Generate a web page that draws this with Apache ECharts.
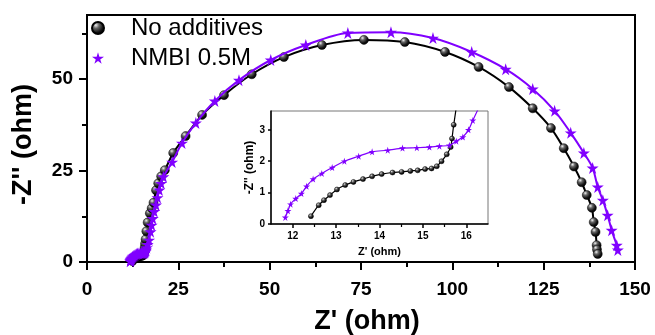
<!DOCTYPE html>
<html><head><meta charset="utf-8">
<script src="https://cdn.jsdelivr.net/npm/echarts@6/dist/echarts.min.js"></script>
<style>html,body{margin:0;padding:0;background:#fff}#c{width:655px;height:335px}</style>
</head><body><div id="c"></div>
<script>
const seriesNames = ['No additives', 'NMBI 0.5M'];
// No additives: Z' (ohm) and -Z'' (ohm)
const noAddZre = [12.42,12.60,12.72,12.86,13.02,13.21,13.40,13.62,13.83,14.05,14.30,14.51,14.71,14.88,15.05,15.20,15.32,15.43,15.55,15.64,15.67,15.71,
  15.80,15.90,16.05,16.25,16.6,17.2,17.7,18.2,18.9,19.5,20.3,21.3,23.6,27.0,31.5,37.5,45.1,53.9,64.3,75.8,87.0,98.0,107.2,115.5,122.0,127.0,130.5,133.3,135.4,136.8,138.2,138.7,139.2,139.5,139.6,139.8];
const noAddZim = [0.25,0.60,0.76,0.92,1.10,1.24,1.34,1.43,1.52,1.59,1.64,1.66,1.69,1.71,1.75,1.77,1.84,2.00,2.22,2.45,2.72,3.16,
  4.0,5.0,6.2,8.4,10.8,13.3,14.7,16.2,19.6,21.5,23.4,25.1,29.8,34.4,40.2,45.6,51.3,56.0,59.3,60.7,60.1,57.4,53.3,47.8,42.0,36.6,31.1,26.1,21.8,18.3,14.8,10.9,8.2,4.6,3.4,2.2];
// NMBI 0.5M
const nmbiZre = [11.83,11.89,11.95,12.07,12.20,12.32,12.47,12.67,12.91,13.19,13.52,13.83,14.19,14.53,14.86,15.15,15.38,15.61,15.77,15.92,16.05,16.15,
  16.35,16.6,17.0,17.4,17.7,18.0,18.4,18.9,19.3,19.8,20.3,20.9,23.3,26.0,29.8,35.0,41.6,50.3,59.9,71.4,83.2,94.7,105.3,114.6,122.0,128.0,132.4,136.0,138.4,139.8,141.2,142.5,143.6,145.0,145.3];
const nmbiZim = [0.21,0.42,0.63,0.81,0.97,1.20,1.43,1.61,1.80,2.00,2.16,2.30,2.35,2.42,2.43,2.45,2.48,2.51,2.64,2.77,3.00,3.30,
  3.9,4.8,6.0,8.3,10.1,11.9,13.8,15.6,17.6,19.7,21.5,23.3,27.3,32.5,38.0,44.0,49.7,55.2,59.3,62.6,62.8,61.2,57.4,52.7,47.3,41.3,35.3,29.8,25.7,20.5,16.9,12.8,8.7,4.6,3.3];

const mainYTicks = [0, 25, 50];
const mainYMinor = [12.5, 37.5, 62.5];
const insetXTicks = [12, 13, 14, 15, 16];
const insetXMinor = [12.5, 13.5, 14.5, 15.5];
const insetYTicks = [0, 1, 2, 3];

const zip = (a, b) => a.map((v, i) => [v, b[i]]);
const noAddData = zip(noAddZre, noAddZim);
const nmbiData = zip(nmbiZre, nmbiZim);

const FONT = '"Liberation Sans", Arial, sans-serif';
const PURPLE = '#8000ff';
const STAR = 'path://M50,0 L61,35 L98,35 L68,57 L79,91 L50,70 L21,91 L32,57 L2,35 L39,35 Z';
const sphere = {
  type: 'radial', x: 0.35, y: 0.3, r: 0.75,
  colorStops: [{offset: 0, color: '#f0f0f0'}, {offset: 0.3, color: '#666'}, {offset: 0.7, color: '#111'}, {offset: 1, color: '#000'}]
};

const chart = echarts.init(document.getElementById('c'), null, {renderer: 'canvas'});
const axLine = {lineStyle: {color: '#000', width: 2}};
chart.setOption({
  animation: false,
  backgroundColor: '#fff',
  textStyle: {fontFamily: FONT},
  legend: {
    orient: 'vertical', left: 91, top: 16, padding: 0, itemWidth: 12, itemHeight: 12, itemGap: 6,
    data: [{name: seriesNames[0], icon: 'circle'}, {name: seriesNames[1], icon: STAR}],
    textStyle: {fontSize: 24, color: '#000', fontFamily: FONT, lineHeight: 24, padding: [0, 0, 0, 22]}
  },
  grid: [
    {left: 87, right: 20, top: 15, bottom: 73, show: true, borderColor: '#000', borderWidth: 2, containLabel: false, outerBoundsMode: 'none'},
    {left: 271, top: 111, width: 217, height: 113, show: true, borderColor: '#777', borderWidth: 1, backgroundColor: '#fff', containLabel: false, outerBoundsMode: 'none'}
  ],
  xAxis: [
    {gridIndex: 0, type: 'value', min: 0, max: 150, interval: 25,
      axisLine: axLine,
      axisTick: {show: true, inside: false, length: 8, lineStyle: {color: '#000', width: 2}},
      minorTick: {show: true, splitNumber: 2, length: 5, lineStyle: {color: '#000', width: 2}},
      axisLabel: {fontSize: 19, fontWeight: 'bold', color: '#000', margin: 18, fontFamily: FONT},
      splitLine: {show: false}, minorSplitLine: {show: false},
      name: "Z' (ohm)", nameLocation: 'middle', nameGap: 46,
      nameTextStyle: {fontSize: 27, fontWeight: 'bold', color: '#000', fontFamily: FONT, padding: [0, 0, 0, 12]}},
    {gridIndex: 1, type: 'value', min: 11.5, max: 16.5,
      axisLine: {lineStyle: {color: '#000', width: 1.5}},
      axisTick: {show: true, inside: false, length: 4, customValues: insetXTicks, lineStyle: {color: '#000', width: 1.5}},
      axisLabel: {fontSize: 10, fontWeight: 'bold', color: '#000', margin: 7, customValues: insetXTicks, fontFamily: FONT},
      splitLine: {show: false},
      name: "Z' (ohm)", nameLocation: 'middle', nameGap: 22,
      nameTextStyle: {fontSize: 11, fontWeight: 'bold', color: '#000', fontFamily: FONT}},
    {gridIndex: 1, type: 'value', min: 11.5, max: 16.5, position: 'bottom',
      axisLine: {show: false},
      axisTick: {show: true, inside: false, length: 3, customValues: insetXMinor, lineStyle: {color: '#000', width: 1.2}},
      axisLabel: {show: false}, splitLine: {show: false}}
  ],
  yAxis: [
    {gridIndex: 0, type: 'value', min: 0, max: 67.5,
      axisLine: {show: true, lineStyle: {color: '#000', width: 2}},
      axisTick: {show: true, inside: false, length: 8, customValues: mainYTicks, lineStyle: {color: '#000', width: 2}},
      axisLabel: {fontSize: 19, fontWeight: 'bold', color: '#000', margin: 14, customValues: mainYTicks, fontFamily: FONT},
      splitLine: {show: false},
      name: "-Z'' (ohm)", nameLocation: 'middle', nameGap: 50,
      nameTextStyle: {fontSize: 27, fontWeight: 'bold', color: '#000', fontFamily: FONT, padding: [0, 12, 0, 0]}},
    {gridIndex: 0, type: 'value', min: 0, max: 67.5, position: 'left',
      axisLine: {show: false},
      axisTick: {show: true, inside: false, length: 5, customValues: mainYMinor, lineStyle: {color: '#000', width: 2}},
      axisLabel: {show: false}, splitLine: {show: false}},
    {gridIndex: 1, type: 'value', min: 0, max: 3.6,
      axisLine: {show: true, lineStyle: {color: '#000', width: 1.5}},
      axisTick: {show: true, inside: false, length: 3, customValues: insetYTicks, lineStyle: {color: '#000', width: 1.5}},
      axisLabel: {fontSize: 10, fontWeight: 'bold', color: '#000', margin: 6, customValues: insetYTicks, fontFamily: FONT},
      splitLine: {show: false},
      name: "-Z'' (ohm)", nameLocation: 'middle', nameGap: 12,
      nameTextStyle: {fontSize: 12, fontWeight: 'bold', color: '#000', fontFamily: FONT}}
  ],
  series: [
    {name: seriesNames[0], type: 'line', xAxisIndex: 0, yAxisIndex: 0, data: noAddData,
      smooth: 0.3, symbol: 'circle', symbolSize: 9, showAllSymbol: true,
      itemStyle: {color: sphere, borderColor: '#000', borderWidth: 0.5},
      lineStyle: {color: '#000', width: 2}, z: 3},
    {name: seriesNames[1], type: 'line', xAxisIndex: 0, yAxisIndex: 0, data: nmbiData,
      smooth: 0.3, symbol: STAR, symbolSize: 12, showAllSymbol: true,
      itemStyle: {color: PURPLE},
      lineStyle: {color: PURPLE, width: 2}, z: 4},
    {name: seriesNames[0], type: 'line', xAxisIndex: 1, yAxisIndex: 2, data: noAddData,
      smooth: 0.3, symbol: 'circle', symbolSize: 5, showAllSymbol: true, clip: true,
      itemStyle: {color: sphere, borderColor: '#000', borderWidth: 0.5},
      lineStyle: {color: '#000', width: 1.2}, z: 5},
    {name: seriesNames[1], type: 'line', xAxisIndex: 1, yAxisIndex: 2, data: nmbiData,
      smooth: 0.3, symbol: STAR, symbolSize: 7, showAllSymbol: true, clip: true,
      itemStyle: {color: PURPLE},
      lineStyle: {color: PURPLE, width: 1.2}, z: 6}
  ]
});
</script>
</body></html>
